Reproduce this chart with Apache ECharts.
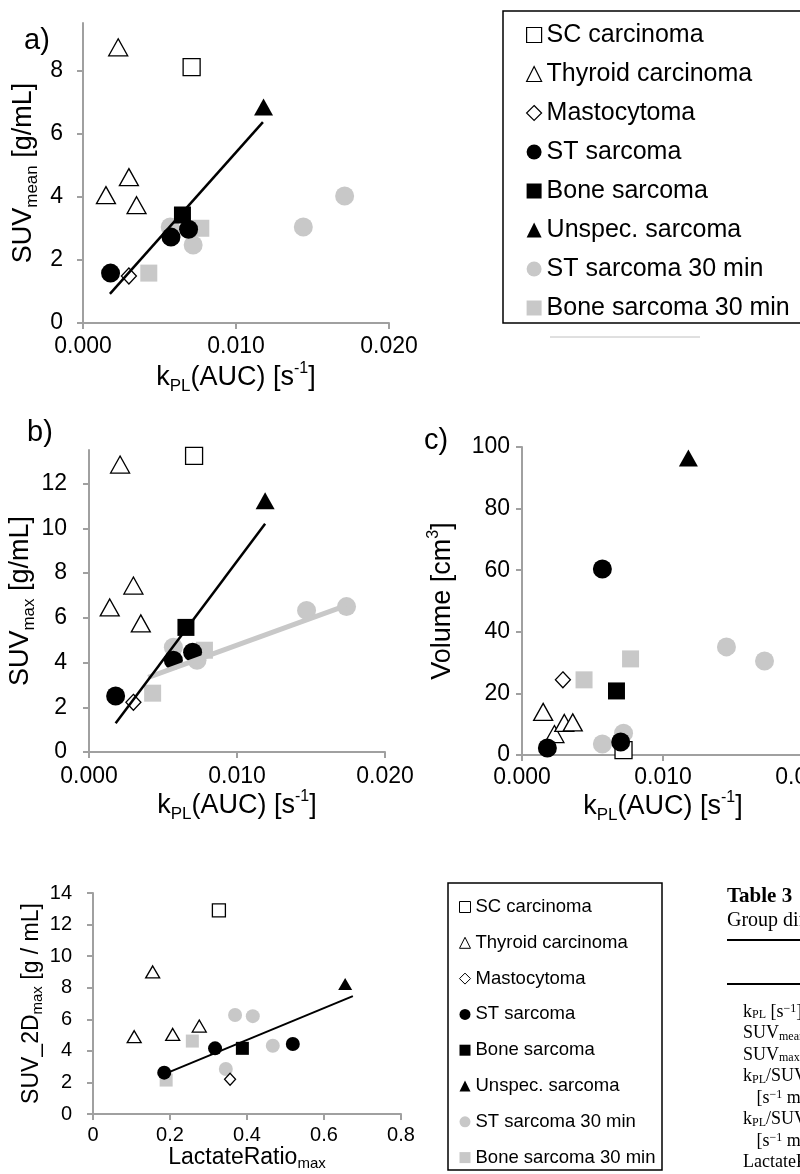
<!DOCTYPE html>
<html>
<head>
<meta charset="utf-8">
<script src="https://cdn.jsdelivr.net/npm/echarts@6/dist/echarts.min.js"></script>
<style>
  html, body { margin: 0; padding: 0; background: #fff; }
  #chart { width: 800px; height: 1174px; }
</style>
</head>
<body>
<div id="chart"></div>
<script>
// 分类（图例顺序）
const categories = [
  "SC carcinoma", "Thyroid carcinoma", "Mastocytoma", "ST sarcoma",
  "Bone sarcoma", "Unspec. sarcoma", "ST sarcoma 30 min", "Bone sarcoma 30 min"
];

// a) kPL(AUC) vs SUVmean，顺序同 categories
const panelA = [
  [[0.0071, 8.1]],
  [[0.0023, 8.73], [0.0015, 4.05], [0.0030, 4.62], [0.0035, 3.73]],
  [[0.0030, 1.49]],
  [[0.0018, 1.58], [0.00575, 2.72], [0.0069, 2.97]],
  [[0.0065, 3.42]],
  [[0.0118, 6.84]],
  [[0.0057, 3.04], [0.0072, 2.47], [0.0144, 3.04], [0.0171, 4.02]],
  [[0.0043, 1.58], [0.0077, 3.0]]
];
const trendA = [[0.00176, 0.92], [0.01176, 6.36]];

// b) kPL(AUC) vs SUVmax
const panelB = [
  [[0.0071, 13.24]],
  [[0.0021, 12.85], [0.0014, 6.46], [0.0030, 7.44], [0.0035, 5.75]],
  [[0.0030, 2.22]],
  [[0.0018, 2.5], [0.0057, 4.1], [0.0070, 4.46]],
  [[0.00655, 5.57]],
  [[0.0119, 11.23]],
  [[0.0057, 4.68], [0.0073, 4.1], [0.0147, 6.33], [0.0174, 6.5]],
  [[0.0043, 2.63], [0.0078, 4.55]]
];
const trendB = [[0.0018, 1.29], [0.0119, 10.2]];
const trendB30 = [[0.0040, 3.34], [0.0174, 6.55]];

// c) kPL(AUC) vs Volume
const panelC = [
  [[0.0072, 1.6]],
  [[0.0015, 14], [0.0023, 6.8], [0.0030, 10.4], [0.0036, 10.6]],
  [[0.0029, 24.4]],
  [[0.0018, 2.3], [0.0057, 60.4], [0.0070, 4.2]],
  [[0.0067, 20.8]],
  [[0.0118, 96.4]],
  [[0.0057, 3.6], [0.0072, 7.1], [0.0145, 35.1], [0.0172, 30.5]],
  [[0.0044, 24.4], [0.0077, 31.2]]
];

// d) LactateRatio_max vs SUV_2Dmax
const panelD = [
  [[0.327, 12.9]],
  [[0.155, 9.0], [0.107, 4.9], [0.207, 5.04], [0.276, 5.57]],
  [[0.356, 2.2]],
  [[0.185, 2.62], [0.317, 4.16], [0.519, 4.43]],
  [[0.388, 4.16]],
  [[0.655, 8.23]],
  [[0.369, 6.27], [0.415, 6.2], [0.467, 4.32], [0.345, 2.85]],
  [[0.258, 4.62], [0.19, 2.15]]
];
const trendD = [[0.185, 2.53], [0.675, 7.47]];

// 表格文字
const tableRows = [
  "k{sub|PL} [s{sup|−1}]",
  "SUV{sub|mean} [g/mL]",
  "SUV{sub|max} [g/mL]",
  "k{sub|PL}/SUV{sub|mean}",
  "   [s{sup|−1} mL/g]",
  "k{sub|PL}/SUV{sub|max}",
  "   [s{sup|−1} mL/g]",
  "LactateRatio{sub|max}"
];

const FONT = "Liberation Sans";
const SERIF = "Liberation Serif";
const GRAY = "#c8c8c8";
const AXIS_GRAY = "#a0a0a0";

// 每类的样式
const looks = [
  { symbol: "rect", fill: "#fff", border: "#000" },
  { symbol: "triangle", fill: "#fff", border: "#000" },
  { symbol: "diamond", fill: "#fff", border: "#000" },
  { symbol: "circle", fill: "#000" },
  { symbol: "rect", fill: "#000" },
  { symbol: "triangle", fill: "#000" },
  { symbol: "circle", fill: GRAY },
  { symbol: "rect", fill: GRAY }
];
const bigSize = { rect: 17, circle: 19, triangle: [19, 17], diamond: [15, 16] };
const smallSize = { rect: 13, circle: 14, triangle: [14, 12], diamond: [11, 12] };

// 画图顺序：灰色在下，空心其次，然后趋势线，黑色实心最上
const drawOrder = [6, 7, 0, 1, 2];
const drawOrderTop = [3, 4, 5];

function scatterSeries(idx, pts, gridIdx, sizes) {
  const lk = looks[idx];
  return {
    name: categories[idx],
    type: "scatter",
    xAxisIndex: gridIdx,
    yAxisIndex: gridIdx,
    symbol: lk.symbol,
    symbolSize: sizes[lk.symbol],
    data: pts,
    itemStyle: lk.border
      ? { color: lk.fill, borderColor: lk.border, borderWidth: 1.3, opacity: 1 }
      : { color: lk.fill, opacity: 1 },
    emphasis: { disabled: true }
  };
}

function trendSeries(pts, gridIdx, color, width) {
  return {
    type: "line",
    xAxisIndex: gridIdx,
    yAxisIndex: gridIdx,
    data: pts,
    symbol: "none",
    silent: true,
    lineStyle: { color: color, width: width },
    emphasis: { disabled: true }
  };
}

function panelSeries(panel, gridIdx, sizes, trends) {
  const out = [];
  drawOrder.forEach((i) => out.push(scatterSeries(i, panel[i], gridIdx, sizes)));
  trends.forEach((t) => out.push(t));
  drawOrderTop.forEach((i) => out.push(scatterSeries(i, panel[i], gridIdx, sizes)));
  return out;
}

const big = { t: { fontSize: 27, lineHeight: 34, fontFamily: FONT, color: "#000" },
  sub: { fontSize: 17, lineHeight: 22, verticalAlign: "bottom", fontFamily: FONT, color: "#000" },
  sup: { fontSize: 16, lineHeight: 22, verticalAlign: "top", fontFamily: FONT, color: "#000" } };
const small = { t: { fontSize: 23, lineHeight: 28, fontFamily: FONT, color: "#000" },
  sub: { fontSize: 15, lineHeight: 19, verticalAlign: "bottom", fontFamily: FONT, color: "#000" } };

function xAxisOf(gridIdx, max, interval, name, nameGap, labelMargin, fontSize, rich, fmt) {
  return {
    type: "value", gridIndex: gridIdx, min: 0, max: max, interval: interval,
    name: name, nameLocation: "middle", nameGap: nameGap,
    nameTextStyle: { rich: rich },
    axisLine: { show: true, lineStyle: { color: AXIS_GRAY, width: 2 } },
    axisTick: { show: true, inside: false, length: 6, lineStyle: { color: AXIS_GRAY, width: 2 } },
    axisLabel: { margin: labelMargin, fontSize: fontSize, fontFamily: FONT, color: "#000",
      formatter: fmt, showMinLabel: true, showMaxLabel: true, hideOverlap: false },
    splitLine: { show: false }
  };
}

function yAxisOf(gridIdx, max, ticks, name, nameGap, labelMargin, fontSize, rich) {
  return {
    type: "value", gridIndex: gridIdx, min: 0, max: max,
    name: name, nameLocation: "middle", nameGap: nameGap,
    nameTextStyle: { rich: rich },
    axisLine: { show: true, lineStyle: { color: AXIS_GRAY, width: 2 } },
    axisTick: { show: true, inside: false, length: 6, customValues: ticks,
      lineStyle: { color: AXIS_GRAY, width: 2 } },
    axisLabel: { margin: labelMargin, fontSize: fontSize, fontFamily: FONT, color: "#000",
      customValues: ticks },
    splitLine: { show: false }
  };
}

const kplName = "{t|k}{sub|PL}{t|(AUC) [s}{sup|-1}{t|]}";
const fmt3 = (v) => v.toFixed(3);

const chart = echarts.init(document.getElementById("chart"), null, { renderer: "canvas" });

const option = {
  animation: false,
  backgroundColor: "#fff",
  grid: [
    { left: 83, top: 23, width: 306, height: 300, outerBoundsMode: "none" },
    { left: 89, top: 450, width: 296, height: 302, outerBoundsMode: "none" },
    { left: 522, top: 447, width: 282, height: 308, outerBoundsMode: "none" },
    { left: 93, top: 893, width: 308, height: 221, outerBoundsMode: "none" }
  ],
  xAxis: [
    xAxisOf(0, 0.02, 0.01, kplName, 38, 12, 23, big, fmt3),
    xAxisOf(1, 0.02, 0.01, kplName, 31, 13, 23, big, fmt3),
    xAxisOf(2, 0.02, 0.01, kplName, 28, 11, 23, big, fmt3),
    xAxisOf(3, 0.8, 0.2, "{t|LactateRatio}{sub|max}", 27, 11, 20, small, null)
  ],
  yAxis: [
    yAxisOf(0, 9.5, [0, 2, 4, 6, 8], "{t|SUV}{sub|mean}{t| [g/mL]}", 42, 20, 23, big),
    yAxisOf(1, 13.5, [0, 2, 4, 6, 8, 10, 12], "{t|SUV}{sub|max}{t| [g/mL]}", 49, 22, 23, big),
    yAxisOf(2, 100, [0, 20, 40, 60, 80, 100], "{t|Volume [cm}{sup|3}{t|]}", 62, 12, 23, big),
    yAxisOf(3, 14, [0, 2, 4, 6, 8, 10, 12, 14], "{t|SUV_2D}{sub|max}{t| [g / mL]}", 41, 21, 20, small)
  ],
  legend: [
    {
      data: categories, orient: "vertical", left: 521, top: 15,
      itemWidth: 15, itemHeight: 15, itemGap: 9, selectedMode: false,
      itemStyle: { borderWidth: 1.2 },
      textStyle: { fontSize: 25, lineHeight: 30, fontFamily: FONT, color: "#000" }
    },
    {
      data: categories, orient: "vertical", left: 454, top: 891,
      itemWidth: 11, itemHeight: 11, itemGap: 13.8, selectedMode: false,
      itemStyle: { borderWidth: 1 },
      textStyle: { fontSize: 18.5, lineHeight: 22, fontFamily: FONT, color: "#000" }
    }
  ],
  graphic: [
    { type: "rect", shape: { x: 503, y: 11, width: 320, height: 312 },
      style: { fill: "none", stroke: "#000", lineWidth: 1.5 }, silent: true },
    { type: "line", shape: { x1: 550, y1: 337, x2: 700, y2: 337 },
      style: { stroke: "#c0c0c0", lineWidth: 1 }, silent: true },
    { type: "rect", shape: { x: 448, y: 883, width: 214, height: 287 },
      style: { fill: "none", stroke: "#000", lineWidth: 1.5 }, silent: true },
    { type: "text", x: 24, y: 41, style: { text: "a)", font: "29px Liberation Sans", fill: "#000", verticalAlign: "middle" } },
    { type: "text", x: 27, y: 433, style: { text: "b)", font: "29px Liberation Sans", fill: "#000", verticalAlign: "middle" } },
    { type: "text", x: 424, y: 441, style: { text: "c)", font: "29px Liberation Sans", fill: "#000", verticalAlign: "middle" } },
    { type: "text", x: 727, y: 897, style: { text: "Table 3", font: "bold 21px Liberation Serif", fill: "#000", verticalAlign: "middle" } },
    { type: "text", x: 727, y: 921, style: { text: "Group differences", font: "20px Liberation Serif", fill: "#000", verticalAlign: "middle" } },
    { type: "line", shape: { x1: 727, y1: 940, x2: 820, y2: 940 }, style: { stroke: "#000", lineWidth: 2 } },
    { type: "line", shape: { x1: 727, y1: 984, x2: 820, y2: 984 }, style: { stroke: "#000", lineWidth: 2 } }
  ].concat(tableRows.map((r, i) => ({
    type: "text", x: 743, y: 1012 + i * 21.5,
    style: {
      text: r, fill: "#000", verticalAlign: "middle",
      font: "18px Liberation Serif",
      rich: {
        sub: { fontSize: 12, fontFamily: SERIF, verticalAlign: "bottom", lineHeight: 15 },
        sup: { fontSize: 12, fontFamily: SERIF, verticalAlign: "top", lineHeight: 15 }
      }
    }
  }))),
  series: [].concat(
    panelSeries(panelA, 0, bigSize, [trendSeries(trendA, 0, "#000", 2.5)]),
    panelSeries(panelB, 1, bigSize, [trendSeries(trendB30, 1, GRAY, 5), trendSeries(trendB, 1, "#000", 2.5)]),
    panelSeries(panelC, 2, bigSize, []),
    panelSeries(panelD, 3, smallSize, [trendSeries(trendD, 3, "#000", 2)])
  )
};

chart.setOption(option);
</script>
</body>
</html>
